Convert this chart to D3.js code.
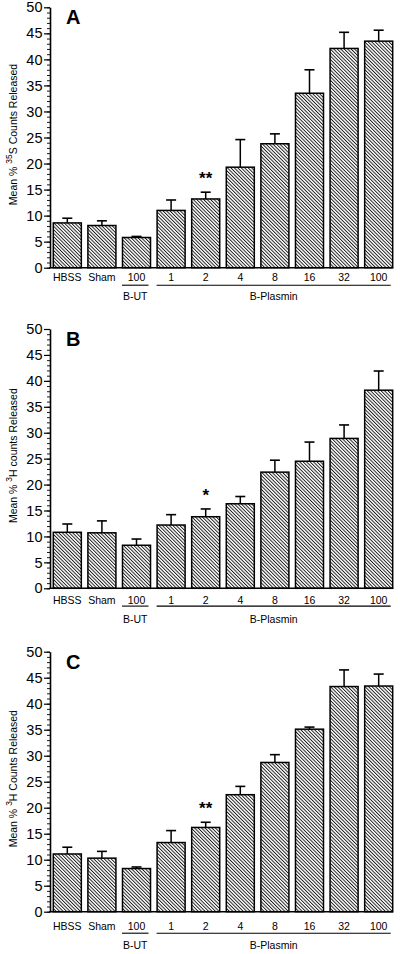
<!DOCTYPE html>
<html>
<head>
<meta charset="utf-8">
<script src="https://cdn.jsdelivr.net/npm/d3@7"></script>
<style>
  html, body { margin: 0; padding: 0; background: #fff; }
  svg { display: block; font-family: "Liberation Sans", Arial, Helvetica, sans-serif; }
</style>
</head>
<body>
<svg id="chart" width="400" height="954"></svg>
<script>
// ---------- data ----------
const categories = ["HBSS", "Sham", "100", "1", "2", "4", "8", "16", "32", "100"];
const groupLabels = ["B-UT", "B-Plasmin"];
const groupStart = [2, 3];
const groupEnd = [2, 9];
const yTicks = [0, 5, 10, 15, 20, 25, 30, 35, 40, 45, 50];

const panelLetters = ["A", "B", "C"];
const isotopeMass = ["35", "3", "3"];
const isotopeSymbol = ["S", "H", "H"];
const countsWord = ["Counts", "counts", "Counts"];

const meansA = [8.6, 8.1, 5.8, 11.0, 13.2, 19.3, 23.8, 33.5, 42.1, 43.5];
const errA   = [0.9, 0.9, 0.2, 2.0, 1.3, 5.3, 1.9, 4.5, 3.1, 2.1];
const sigA   = ["", "", "", "", "**", "", "", "", "", ""];

const meansB = [10.8, 10.7, 8.3, 12.2, 13.8, 16.3, 22.4, 24.5, 28.9, 38.2];
const errB   = [1.6, 2.3, 1.2, 2.0, 1.5, 1.4, 2.3, 3.7, 2.6, 3.7];
const sigB   = ["", "", "", "", "*", "", "", "", "", ""];

const meansC = [11.1, 10.3, 8.3, 13.3, 16.2, 22.5, 28.7, 35.1, 43.3, 43.4];
const errC   = [1.3, 1.3, 0.3, 2.3, 1.0, 1.6, 1.5, 0.4, 3.2, 2.3];
const sigC   = ["", "", "", "", "**", "", "", "", "", ""];

const panelMeans = [meansA, meansB, meansC];
const panelErrs = [errA, errB, errC];
const panelSigs = [sigA, sigB, sigC];

// ---------- layout ----------
const layout = [
  { top: 7.3,   bottom: 267.7, lab: 9.5,  line: 17.5, grp: 28.5 },
  { top: 329.0, bottom: 588.3, lab: 11.5, line: 17.8, grp: 30.8 },
  { top: 651.7, bottom: 911.7, lab: 14.5, line: 21.5, grp: 33.5 }
];
const axisX = 50;

const svg = d3.select("#chart");

// hatch pattern
const defs = svg.append("defs");
defs.append("pattern")
  .attr("id", "hatch")
  .attr("patternUnits", "userSpaceOnUse")
  .attr("width", 2.45)
  .attr("height", 10)
  .attr("patternTransform", "rotate(-45)")
  .append("rect")
  .attr("x", 0).attr("y", 0)
  .attr("width", 0.95).attr("height", 10)
  .attr("fill", "#1a1a1a");

const x = d3.scaleBand()
  .domain(d3.range(categories.length))
  .range([53.3, 392.7])
  .paddingInner(0.19)
  .paddingOuter(0);

layout.forEach((L, p) => {
  const g = svg.append("g");
  const y = d3.scaleLinear().domain([0, 50]).range([L.bottom, L.top]);
  const means = panelMeans[p], errs = panelErrs[p], sigs = panelSigs[p];

  // minor ticks
  g.append("g")
    .attr("transform", `translate(${axisX},0)`)
    .call(d3.axisLeft(y).tickValues(d3.range(0, 51, 1)).tickSize(3).tickFormat(""))
    .call(s => s.select(".domain").remove())
    .call(s => s.selectAll("line").attr("stroke", "#000").attr("stroke-width", 0.9));

  // major ticks + labels
  g.append("g")
    .attr("transform", `translate(${axisX},0)`)
    .call(d3.axisLeft(y).tickValues(yTicks).tickSize(6).tickSizeOuter(0).tickPadding(1.5))
    .call(s => s.select(".domain").attr("stroke", "#000").attr("stroke-width", 1.6))
    .call(s => s.selectAll(".tick line").attr("stroke", "#000").attr("stroke-width", 1.2))
    .call(s => s.selectAll(".tick text")
      .attr("font-size", 14.5)
      .attr("fill", "#000")
      .attr("font-family", "'Liberation Sans', Arial, sans-serif"));

  // bars
  g.selectAll("rect.bar")
    .data(means)
    .join("rect")
    .attr("class", "bar")
    .attr("x", (d, i) => x(i))
    .attr("y", d => y(d))
    .attr("width", x.bandwidth())
    .attr("height", d => y(0) - y(d))
    .attr("fill", "url(#hatch)")
    .attr("stroke", "#000")
    .attr("stroke-width", 1.5);

  // error bars (upper only)
  const eb = g.selectAll("g.err")
    .data(means.map((m, i) => ({ m, e: errs[i], i })))
    .join("g")
    .attr("class", "err");
  eb.append("line")
    .attr("x1", d => x(d.i) + x.bandwidth() / 2)
    .attr("x2", d => x(d.i) + x.bandwidth() / 2)
    .attr("y1", d => y(d.m))
    .attr("y2", d => y(d.m + d.e))
    .attr("stroke", "#000").attr("stroke-width", 1.5);
  eb.append("line")
    .attr("x1", d => x(d.i) + x.bandwidth() / 2 - 5)
    .attr("x2", d => x(d.i) + x.bandwidth() / 2 + 5)
    .attr("y1", d => y(d.m + d.e))
    .attr("y2", d => y(d.m + d.e))
    .attr("stroke", "#000").attr("stroke-width", 1.6);

  // significance marks
  g.selectAll("text.sig")
    .data(means.map((m, i) => ({ m, e: errs[i], s: sigs[i], i })).filter(d => d.s))
    .join("text")
    .attr("class", "sig")
    .attr("x", d => x(d.i) + x.bandwidth() / 2)
    .attr("y", d => y(d.m + d.e) - 8)
    .attr("text-anchor", "middle")
    .attr("font-size", 17)
    .attr("font-weight", "bold")
    .text(d => d.s);

  // x baseline
  g.append("line")
    .attr("x1", axisX - 0.8).attr("x2", x.range()[1] + 0.5)
    .attr("y1", y(0)).attr("y2", y(0))
    .attr("stroke", "#000").attr("stroke-width", 1.6);

  // category labels
  g.append("g")
    .attr("transform", `translate(0,${y(0)})`)
    .call(d3.axisBottom(x).tickSize(0).tickPadding(L.lab - 3.5).tickFormat(i => categories[i]))
    .call(s => s.select(".domain").remove())
    .call(s => s.selectAll(".tick text")
      .attr("font-size", 10.5)
      .attr("fill", "#000")
      .attr("font-family", "'Liberation Sans', Arial, sans-serif"));

  // group lines and labels
  groupLabels.forEach((lab, k) => {
    const x1 = x(groupStart[k]) - 0.5;
    const x2 = x(groupEnd[k]) + x.bandwidth() - 2;
    g.append("line")
      .attr("x1", x1).attr("x2", x2)
      .attr("y1", y(0) + L.line).attr("y2", y(0) + L.line)
      .attr("stroke", "#000").attr("stroke-width", 1.1);
    g.append("text")
      .attr("x", (x1 + x2) / 2)
      .attr("y", y(0) + L.grp + 3.7)
      .attr("text-anchor", "middle")
      .attr("font-size", 10.5)
      .text(lab);
  });

  // panel letter
  g.append("text")
    .attr("x", 66)
    .attr("y", y(50) + 17)
    .attr("font-size", 20)
    .attr("font-weight", "bold")
    .text(panelLetters[p]);

  // y axis label
  const yl = g.append("text")
    .attr("transform", `translate(17,${(y(0) + y(50)) / 2 - 3}) rotate(-90)`)
    .attr("text-anchor", "middle")
    .attr("font-size", 10.5);
  yl.append("tspan").text("Mean % ");
  yl.append("tspan").attr("dy", -5).attr("font-size", 8.5).text(isotopeMass[p]);
  yl.append("tspan").attr("dy", 5).text(isotopeSymbol[p] + " " + countsWord[p] + " Released");
});
</script>
</body>
</html>
